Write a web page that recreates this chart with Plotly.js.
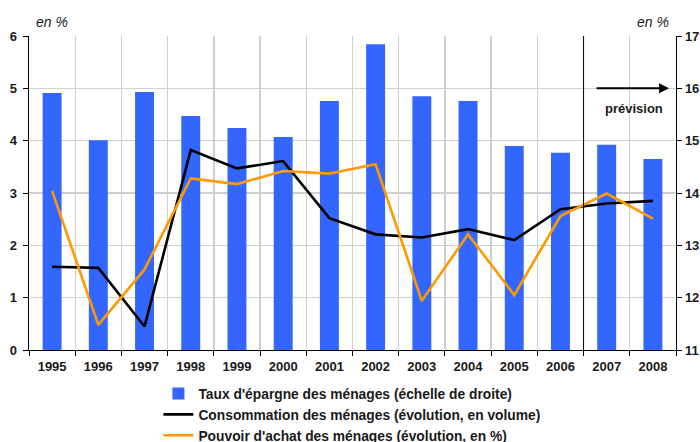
<!DOCTYPE html>
<html>
<head>
<meta charset="utf-8">
<script src="https://cdn.plot.ly/plotly-3.0.1.min.js"></script>
<style>html,body{margin:0;padding:0;background:#fff;}#chart{width:700px;height:442px;}</style>
</head>
<body>
<div id="chart"></div>
<script>
const years = ['1995','1996','1997','1998','1999','2000','2001','2002','2003','2004','2005','2006','2007','2008'];
const tauxEpargne = [15.91,15.01,15.93,15.47,15.24,15.07,15.76,16.84,15.85,15.76,14.90,14.77,14.92,14.65];
const consommation = [1.59,1.57,0.45,3.82,3.47,3.61,2.52,2.21,2.15,2.31,2.10,2.69,2.80,2.85];
const pouvoirAchat = [3.04,0.48,1.54,3.28,3.17,3.42,3.37,3.55,0.94,2.21,1.05,2.56,2.99,2.51];
const leftTicks = [0,1,2,3,4,5,6];
const rightTicks = [11,12,13,14,15,16,17];
const seriesNames = ["Taux d'épargne des ménages (échelle de droite)", "Consommation des ménages (évolution, en volume)", "Pouvoir d'achat des ménages (évolution, en %)"];

const FAM = '"Liberation Sans", Arial, sans-serif';
const fnt = {family: FAM, size: 13, color: '#1a1a1a', weight: 'bold'};
const legFnt = {family: FAM, size: 13.8, color: '#1a1a1a', weight: 'bold'};
const itFnt = {family: FAM, size: 14, color: '#1a1a1a', style: 'italic', weight: 'normal'};

const data = [
  {type:'bar', x: years, y: tauxEpargne, name: seriesNames[0], yaxis:'y', marker:{color:'#3366ff'}, width:0.41},
  {type:'scatter', mode:'lines', x: years, y: consommation, name: seriesNames[1], yaxis:'y2', line:{color:'#000000', width:2.6}},
  {type:'scatter', mode:'lines', x: years, y: pouvoirAchat, name: seriesNames[2], yaxis:'y2', line:{color:'#ff9900', width:2.6}}
];

const layout = {
  width:700, height:442,
  margin:{l:29, r:24, t:36, b:92, autoexpand:false},
  paper_bgcolor:'#ffffff', plot_bgcolor:'#ffffff',
  font: fnt,
  showlegend:true,
  legend:{x:0.2, y:-0.089, xanchor:'left', yanchor:'top', orientation:'v', font:legFnt, bgcolor:'rgba(0,0,0,0)', tracegroupgap:0},
  xaxis:{type:'category', tickson:'boundaries', showgrid:true, gridcolor:'#d0d0d0', gridwidth:1.3,
         showline:true, linecolor:'#000', linewidth:1.3, ticks:'outside', ticklen:5, tickcolor:'#000',
         tickfont:fnt, ticklabelstandoff:4, range:[-0.5,13.5], fixedrange:true},
  yaxis:{side:'right', range:[11,17], tickvals:rightTicks, showgrid:true, gridcolor:'#d0d0d0', gridwidth:1.3,
         showline:true, linecolor:'#000', linewidth:1.3, ticks:'outside', ticklen:5, tickcolor:'#000',
         tickfont:fnt, zeroline:false},
  yaxis2:{side:'left', overlaying:'y', range:[0,6], tickvals:leftTicks, showgrid:false,
         showline:true, linecolor:'#000', linewidth:1.3, ticks:'outside', ticklen:5, tickcolor:'#000',
         tickfont:fnt, ticklabelstandoff:3, zeroline:false},
  shapes:[{type:'line', xref:'x', yref:'paper', x0:11.5, x1:11.5, y0:0, y1:1, line:{color:'#000', width:1}}],
  annotations:[
    {xref:'x', yref:'y2', x:13.35, y:5, ax:11.75, ay:5, axref:'x', ayref:'y2', showarrow:true, arrowhead:2, arrowsize:1, arrowwidth:2, arrowcolor:'#000', text:''},
    {xref:'x', yref:'y2', x:12.6, y:4.62, text:'prévision', showarrow:false, font:fnt},
    {xref:'paper', yref:'paper', x:0.008, y:1.045, xanchor:'left', yanchor:'middle', text:'en %', showarrow:false, font:itFnt},
    {xref:'paper', yref:'paper', x:0.993, y:1.045, xanchor:'right', yanchor:'middle', text:'en %', showarrow:false, font:itFnt}
  ]
};

Plotly.newPlot('chart', data, layout, {displayModeBar:false, staticPlot:true});
</script>
</body>
</html>
